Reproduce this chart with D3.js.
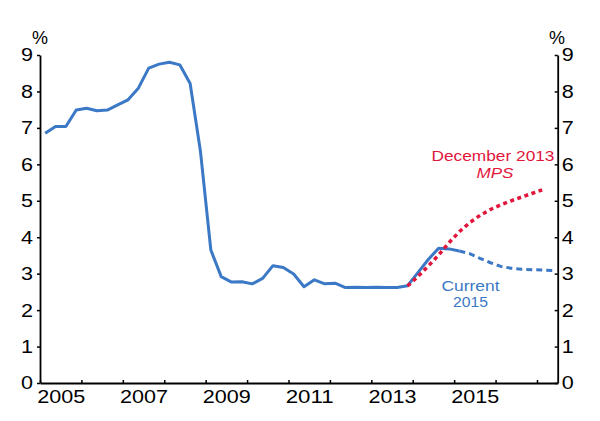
<!DOCTYPE html>
<html>
<head>
<meta charset="utf-8">
<script src="https://cdn.jsdelivr.net/npm/d3@7"></script>
<style>
  body { margin: 0; background: #fff; }
  text { font-family: "Liberation Sans", Arial, sans-serif; }
</style>
</head>
<body>
<div id="chart"></div>
<script>
// quarterly data, first value is the first quarter of startYear
var currentStart = 2005;
var currentActual = [
    6.85, 7.04, 7.04, 7.49,
    7.54, 7.47, 7.49, 7.63,
    7.77, 8.09, 8.64, 8.75,
    8.80, 8.73, 8.22, 6.35,
    3.65, 2.92, 2.77, 2.78,
    2.72, 2.87, 3.22, 3.17,
    2.99, 2.64, 2.83, 2.72,
    2.74, 2.62, 2.63, 2.62,
    2.63, 2.62, 2.62, 2.67,
    3.03, 3.39, 3.70, 3.68,
    3.62
];
// starts 2015 Q1
var forecastStart = 2015;
var currentForecast = [3.62, 3.55, 3.42, 3.30, 3.20, 3.15, 3.12, 3.11, 3.10, 3.09];
// December 2013 MPS, starts 2013 Q4
var mpsStart = 2013.75;
var mps2013 = [2.66, 2.92, 3.21, 3.51, 3.85, 4.15, 4.40, 4.60, 4.76, 4.89, 5.00, 5.10, 5.20, 5.30];

var yTicks = [0, 1, 2, 3, 4, 5, 6, 7, 8, 9];
var yearTicks = [2005, 2006, 2007, 2008, 2009, 2010, 2011, 2012, 2013, 2014, 2015, 2016, 2017];
var yearLabels = [2005, 2007, 2009, 2011, 2013, 2015];

var blue = '#3b78c5';
var red = '#e2163c';

var svg = d3.select('#chart')
    .append('svg')
    .attr('width', 600)
    .attr('height', 421);

var x = d3.scaleLinear().domain([2005, 2017.5]).range([40, 557.7]);
var y = d3.scaleLinear().domain([0, 9]).range([383, 55]);

function toPoints(start, values) {
    return values.map(function(v, i) {
        return { t: start + (i + 0.5) / 4, v: v };
    });
}

var line = d3.line()
    .x(d => x(d.t))
    .y(d => y(d.v));

// axes
var leftAxis = svg.append('g')
    .attr('transform', 'translate(40,0)')
    .call(d3.axisLeft(y).tickValues(yTicks).tickSize(3).tickSizeOuter(0).tickPadding(4));

var rightAxis = svg.append('g')
    .attr('transform', 'translate(557.7,0)')
    .call(d3.axisRight(y).tickValues(yTicks).tickSize(-3).tickSizeOuter(0).tickPadding(4));

var bottomAxis = svg.append('g')
    .attr('transform', 'translate(0,383)')
    .call(d3.axisBottom(x).tickValues(yearTicks).tickSize(-3).tickSizeOuter(0).tickFormat(''));

var bottomLabels = svg.append('g')
    .attr('transform', 'translate(0,383)')
    .call(d3.axisBottom(x).tickValues(yearLabels.map(d => d + 0.5)).tickSize(0).tickPadding(7)
        .tickFormat(d => String(Math.floor(d))));
bottomLabels.select('.domain').remove();

[leftAxis, rightAxis, bottomAxis].forEach(function(g) {
    g.select('.domain').attr('stroke', '#000').attr('stroke-width', 1.8);
    g.selectAll('.tick line').attr('stroke', '#000').attr('stroke-width', 1.5);
});

[leftAxis, rightAxis, bottomLabels].forEach(function(g) {
    g.selectAll('.tick text')
        .attr('fill', '#000')
        .style('font-size', '18.5px')
        .attr('textLength', function() { return this.textContent.length * 12; })
        .attr('lengthAdjust', 'spacingAndGlyphs');
});

// unit labels
svg.append('text').attr('x', 40).attr('y', 44).attr('text-anchor', 'middle')
    .style('font-size', '18px').attr('textLength', 16).attr('lengthAdjust', 'spacingAndGlyphs').text('%');
svg.append('text').attr('x', 557).attr('y', 44).attr('text-anchor', 'middle')
    .style('font-size', '18px').attr('textLength', 16).attr('lengthAdjust', 'spacingAndGlyphs').text('%');

// lines
svg.append('path')
    .datum(toPoints(currentStart, currentActual))
    .attr('d', line)
    .attr('fill', 'none')
    .attr('stroke', blue)
    .attr('stroke-width', 3)
    .attr('stroke-linejoin', 'round');

svg.append('path')
    .datum(toPoints(forecastStart, currentForecast))
    .attr('d', line)
    .attr('fill', 'none')
    .attr('stroke', blue)
    .attr('stroke-width', 3)
    .attr('stroke-dasharray', '6,4');

svg.append('path')
    .datum(toPoints(mpsStart, mps2013))
    .attr('d', line)
    .attr('fill', 'none')
    .attr('stroke', red)
    .attr('stroke-width', 3.5)
    .attr('stroke-dasharray', '4,3.5');

// series labels
function label(txt, cx, by, color, w, italic, size) {
    svg.append('text')
        .attr('x', cx).attr('y', by)
        .attr('text-anchor', 'middle')
        .attr('fill', color)
        .style('font-size', size + 'px')
        .style('font-style', italic ? 'italic' : 'normal')
        .attr('textLength', w)
        .attr('lengthAdjust', 'spacingAndGlyphs')
        .text(txt);
}
label('December 2013', 493, 161, red, 123, false, 15.5);
label('MPS', 495, 178, red, 37, true, 15.5);
label('Current', 470.5, 290.5, blue, 58, false, 14.5);
label('2015', 470.5, 306.5, blue, 35, false, 14.5);
</script>
</body>
</html>
